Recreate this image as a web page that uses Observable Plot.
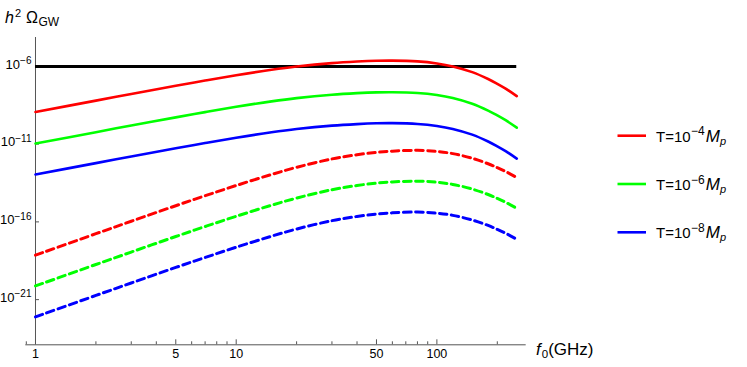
<!DOCTYPE html>
<html><head><meta charset="utf-8">
<script src="https://cdn.jsdelivr.net/npm/d3@7"></script>
<script src="https://cdn.jsdelivr.net/npm/@observablehq/plot@0.6"></script>
<style>
body{margin:0;background:#fff;}
svg{font-family:"Liberation Sans",Arial,sans-serif;}
</style>
</head><body><div id="chart"></div>
<script>
// frequencies (GHz)
const freqs = [1,2,3,5,7,10,15,20,30,40,50,60,80,100,120,150,180,200,220,250];
// log10(h^2 Omega_GW)
const redSolid    = [-8.93,-8.20,-7.77,-7.25,-6.91,-6.57,-6.22,-6.01,-5.79,-5.69,-5.64,-5.63,-5.68,-5.81,-6.00,-6.37,-6.81,-7.12,-7.43,-7.91];
const greenSolid  = [-10.96,-10.23,-9.80,-9.28,-8.94,-8.60,-8.25,-8.04,-7.82,-7.72,-7.67,-7.66,-7.71,-7.84,-8.03,-8.40,-8.84,-9.15,-9.46,-9.94];
const blueSolid   = [-12.95,-12.22,-11.79,-11.27,-10.93,-10.59,-10.24,-10.03,-9.81,-9.71,-9.66,-9.65,-9.70,-9.83,-10.02,-10.39,-10.83,-11.14,-11.45,-11.93];
const redDashed   = [-18.14,-16.76,-15.96,-14.96,-14.32,-13.66,-12.95,-12.49,-11.95,-11.68,-11.53,-11.45,-11.40,-11.47,-11.61,-11.91,-12.26,-12.51,-12.76,-13.15];
const greenDashed = [-20.12,-18.74,-17.94,-16.94,-16.30,-15.64,-14.93,-14.47,-13.93,-13.66,-13.51,-13.43,-13.38,-13.45,-13.59,-13.89,-14.24,-14.49,-14.74,-15.13];
const blueDashed  = [-22.11,-20.73,-19.93,-18.93,-18.29,-17.63,-16.92,-16.46,-15.92,-15.65,-15.50,-15.42,-15.37,-15.44,-15.58,-15.88,-16.23,-16.48,-16.73,-17.12];
const bound = 1e-6;
// ticks
const xMajor = [1,5,10,50,100];
const xMinor = [0.9,2,3,4,6,7,8,9,20,30,40,60,70,80,90,200];
const yMajorExp = [-6,-11,-16,-21];
const legendLabels = ["-4","-6","-8"];
const colors = ["#ff0000","#00ff00","#0000ff"];

const series = [
  {vals: redSolid, color: colors[0], dash: null},
  {vals: greenSolid, color: colors[1], dash: null},
  {vals: blueSolid, color: colors[2], dash: null},
  {vals: redDashed, color: colors[0], dash: "7.5,4.5"},
  {vals: greenDashed, color: colors[1], dash: "7.5,4.5"},
  {vals: blueDashed, color: colors[2], dash: "7.5,4.5"}
];

const yMin = 10**-23.905, yMax = 10**-4.142;
const axisColor = "#555";
const frameH = 367 - 37 - 22.7;

const lineMarks = series.map(s => Plot.line(
  freqs.map((f,i) => ({f, v: 10**s.vals[i]})),
  {x: "f", y: "v", stroke: s.color, strokeWidth: s.dash ? 3 : 2.6,
   strokeDasharray: s.dash, curve: "catmull-rom"}));

const chart = Plot.plot({
  width: 747, height: 367,
  marginLeft: 25.3, marginRight: 221.3, marginTop: 37, marginBottom: 22.7,
  x: {type: "log", domain: [10**-0.0483, 10**2.445], axis: null},
  y: {type: "log", domain: [yMin, yMax], axis: null},
  style: {background: "white", fontFamily: "Liberation Sans, Arial, sans-serif"},
  marks: [
    Plot.ruleY([yMin], {stroke: axisColor, strokeWidth: 1}),
    Plot.ruleX([1], {stroke: axisColor, strokeWidth: 1}),
    Plot.tickX(xMajor, {x: d => d, insetTop: frameH - 5, stroke: axisColor}),
    Plot.tickX(xMinor, {x: d => d, insetTop: frameH - 3, stroke: axisColor}),
    Plot.ruleY(yMajorExp.map(e => 10**e), {y: d => d, x1: 1, x2: 10**(4/200.7), stroke: axisColor}),
    Plot.text(xMajor, {x: d => d, frameAnchor: "bottom", dy: 13, text: d => String(d), fontSize: 12.5, fill: "#000"}),
    Plot.text(yMajorExp, {x: 1, y: d => 10**d, dx: -4, dy: -2, textAnchor: "end", text: d => "10^" + d, fontSize: 13, fill: "#000"}),
    Plot.ruleY([bound], {x1: freqs[0], x2: freqs[freqs.length-1], stroke: "#000", strokeWidth: 3}),
    ...lineMarks
  ]
});

// superscript formatting for y tick labels
d3.select(chart).selectAll("text").each(function() {
  const t = this.textContent;
  const m = /^10\^(-?\d+)$/.exec(t);
  if (m) {
    const el = d3.select(this);
    el.text("10");
    el.append("tspan").attr("dy", "-0.45em").attr("font-size", "10px").text(m[1].replace("-", "\u2212"));
  }
});

const svg = d3.select(chart);
// title h^2 Omega_GW
const title = svg.append("text").attr("x", 5).attr("y", 23).attr("font-size", 16)
  .attr("text-anchor", "start").attr("fill", "#000");
title.append("tspan").attr("font-style", "italic").text("h");
title.append("tspan").attr("font-size", 11).attr("dy", -6).attr("dx", 1).text("2");
title.append("tspan").attr("dy", 6).attr("dx", 5).text("\u03A9");
title.append("tspan").attr("font-size", 12).attr("dy", 3).attr("dx", 0.5).text("GW");

// x axis label f0(GHz)
const xl = svg.append("text").attr("x", 536).attr("y", 355).attr("font-size", 17)
  .attr("text-anchor", "start").attr("fill", "#000");
xl.append("tspan").attr("font-style", "italic").text("f");
xl.append("tspan").attr("font-size", 11.5).attr("dy", 3).attr("dx", 1).text("0");
xl.append("tspan").attr("dy", -3).text("(GHz)");

// legend
const legY = [135.7, 184, 232.3];
legendLabels.forEach((lab, i) => {
  svg.append("line").attr("x1", 617.5).attr("x2", 646).attr("y1", legY[i]).attr("y2", legY[i])
    .attr("stroke", colors[i]).attr("stroke-width", 2.6);
  const t = svg.append("text").attr("x", 656).attr("y", legY[i] + 6).attr("font-size", 15)
    .attr("text-anchor", "start").attr("fill", "#000");
  t.append("tspan").text("T=10");
  t.append("tspan").attr("font-size", 12).attr("dy", -6.5).attr("dx", 0.5).text(lab.replace("-", "\u2212"));
  t.append("tspan").attr("font-size", 17).attr("font-style", "italic").attr("dy", 6.5).attr("dx", 1).text("M");
  t.append("tspan").attr("font-size", 11).attr("font-style", "italic").attr("dy", 3).text("p");
});

document.getElementById("chart").appendChild(chart);
</script>
</body></html>
